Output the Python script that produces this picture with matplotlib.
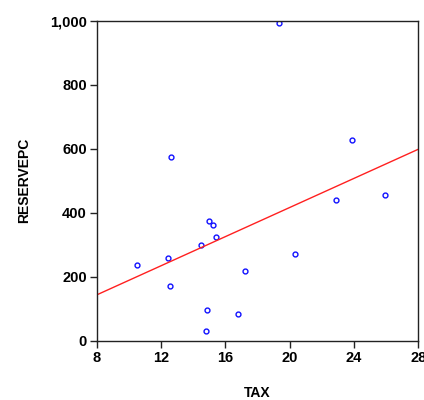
import matplotlib
matplotlib.use("Agg")
import matplotlib.pyplot as plt
import numpy as np

tax = [19.34, 23.86, 12.64, 25.91, 22.86, 15.0, 15.21, 15.42, 14.49, 12.43,
       10.49, 20.35, 17.22, 12.56, 14.88, 16.79, 14.8]
reservepc = [992, 627, 573, 456, 440, 374, 362, 325, 298, 258,
             237, 270, 218, 172, 97, 83, 30]
x_ticks = [8, 12, 16, 20, 24, 28]
y_ticks = [0, 200, 400, 600, 800, 1000]
y_tick_labels = ["0", "200", "400", "600", "800", "1,000"]

plt.rcParams['font.family'] = ['Liberation Sans', 'DejaVu Sans']

fig = plt.figure(figsize=(4.24, 4.0), dpi=100)
ax = fig.add_axes([0.228, 0.148, 0.7586, 0.8])

ax.plot(tax, reservepc, linestyle='none', marker='o', markersize=3.5,
        markerfacecolor='none', markeredgecolor='#1010ff', markeredgewidth=1.0)

slope, intercept = np.polyfit(tax, reservepc, 1)
xl = np.array([8, 28])
ax.plot(xl, intercept + slope * xl, color='#ff2020', linewidth=1.0)

ax.set_xlim(8, 28)
ax.set_ylim(0, 1000)
ax.set_xticks(x_ticks)
ax.set_yticks(y_ticks)
ax.set_yticklabels(y_tick_labels)
ax.tick_params(direction='out', length=5, width=1, colors='#222222', labelsize=10.5, pad=2)
for lab in ax.get_xticklabels() + ax.get_yticklabels():
    lab.set_fontweight('bold')
    lab.set_color('black')
for s in ax.spines.values():
    s.set_color('#222222')
    s.set_linewidth(1.0)

fig.text(257 / 424, 1 - 393 / 400, 'TAX', fontsize=10, fontweight='bold',
         ha='center', va='center')
fig.text(24 / 424, 1 - 180 / 400, 'RESERVEPC', fontsize=10, fontweight='bold',
         ha='center', va='center', rotation=90)

fig.savefig('out.png', dpi=100)
